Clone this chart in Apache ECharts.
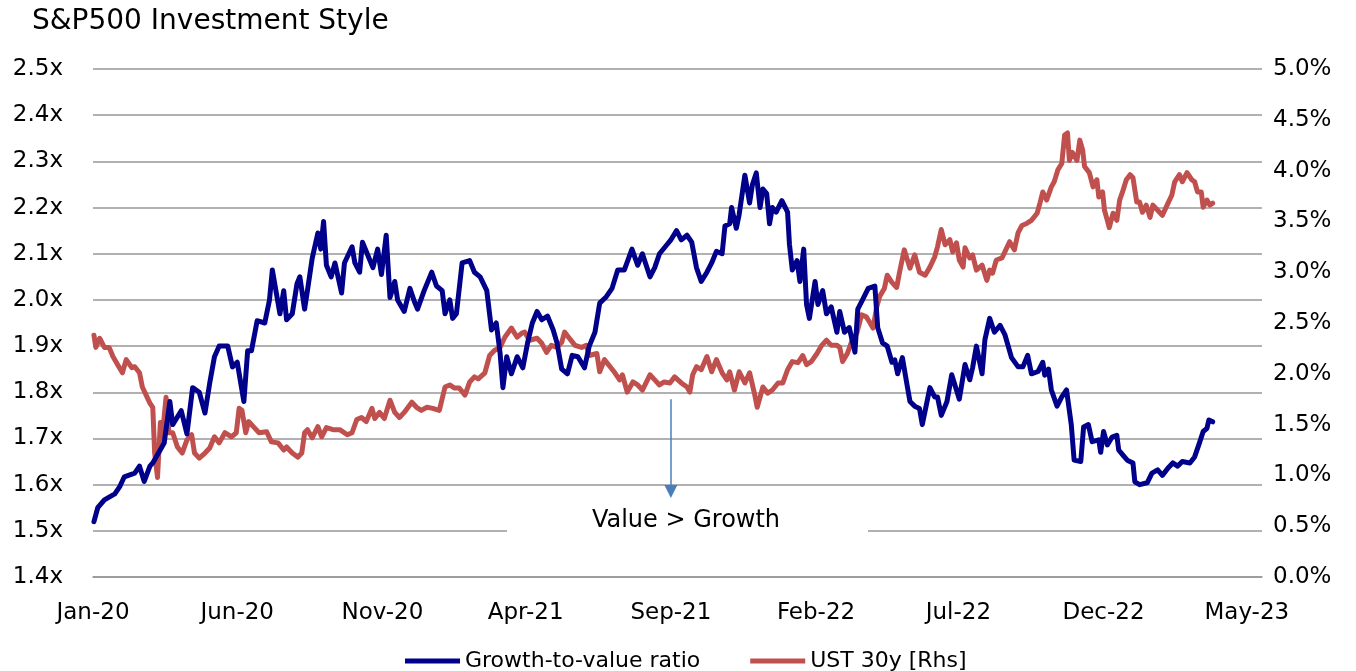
<!DOCTYPE html>
<html>
<head>
<meta charset="utf-8">
<title>S&P500 Investment Style</title>
<script src="https://cdn.jsdelivr.net/npm/echarts@6/dist/echarts.min.js"></script>
<style>
  html, body { margin: 0; padding: 0; background: #fff; }
  #chart { width: 1356px; height: 671px; }
</style>
</head>
<body>
<div id="chart"></div>
<script>
// growth-to-value ratio (left axis)
const gvDates = [
  '2020-01-02','2020-01-06','2020-01-13','2020-01-24','2020-01-29','2020-02-03','2020-02-14','2020-02-19','2020-02-24','2020-03-01',
  '2020-03-04','2020-03-16','2020-03-22','2020-03-25','2020-04-03','2020-04-09','2020-04-15','2020-04-22','2020-04-28','2020-05-03',
  '2020-05-08','2020-05-13','2020-05-22','2020-05-27','2020-06-01','2020-06-08','2020-06-12','2020-06-16','2020-06-22','2020-06-30',
  '2020-07-05','2020-07-08','2020-07-16','2020-07-20','2020-07-23','2020-07-29','2020-08-03','2020-08-06','2020-08-11','2020-08-14',
  '2020-08-19','2020-08-25','2020-08-28','2020-08-31','2020-09-03','2020-09-08','2020-09-12','2020-09-19','2020-09-22','2020-09-30',
  '2020-10-03','2020-10-08','2020-10-11','2020-10-16','2020-10-22','2020-10-27','2020-10-31','2020-11-05','2020-11-09','2020-11-14',
  '2020-11-17','2020-11-24','2020-11-30','2020-12-05','2020-12-08','2020-12-15','2020-12-23','2020-12-28','2021-01-03','2021-01-06',
  '2021-01-11','2021-01-14','2021-01-18','2021-01-24','2021-02-01','2021-02-06','2021-02-12','2021-02-19','2021-02-24','2021-03-01',
  '2021-03-05','2021-03-08','2021-03-12','2021-03-17','2021-03-23','2021-03-29','2021-04-03','2021-04-08','2021-04-13','2021-04-18',
  '2021-04-24','2021-04-30','2021-05-04','2021-05-09','2021-05-15','2021-05-20','2021-05-26','2021-06-02','2021-06-07','2021-06-13',
  '2021-06-18','2021-06-25','2021-07-01','2021-07-07','2021-07-14','2021-07-22','2021-07-28','2021-08-02','2021-08-10','2021-08-15',
  '2021-08-20','2021-08-28','2021-09-01','2021-09-04','2021-09-07','2021-09-12','2021-09-18','2021-09-23','2021-09-28','2021-10-03',
  '2021-10-09','2021-10-14','2021-10-19','2021-10-25','2021-10-28','2021-11-02','2021-11-04','2021-11-09','2021-11-12','2021-11-18',
  '2021-11-23','2021-11-26','2021-11-30','2021-12-04','2021-12-07','2021-12-11','2021-12-14','2021-12-17','2021-12-21','2021-12-27',
  '2022-01-02','2022-01-04','2022-01-07','2022-01-12','2022-01-15','2022-01-19','2022-01-22','2022-01-25','2022-01-31','2022-02-03',
  '2022-02-08','2022-02-12','2022-02-17','2022-02-23','2022-02-26','2022-03-03','2022-03-08','2022-03-14','2022-03-17','2022-03-22',
  '2022-03-28','2022-04-04','2022-04-07','2022-04-12','2022-04-17','2022-04-22','2022-04-25','2022-04-28','2022-05-03','2022-05-08',
  '2022-05-11','2022-05-16','2022-05-21','2022-05-24','2022-05-29','2022-06-01','2022-06-06','2022-06-09','2022-06-13','2022-06-19',
  '2022-06-24','2022-06-29','2022-07-02','2022-07-08','2022-07-13','2022-07-16','2022-07-20','2022-07-26','2022-07-29','2022-08-03',
  '2022-08-08','2022-08-14','2022-08-19','2022-08-26','2022-09-02','2022-09-07','2022-09-12','2022-09-16','2022-09-23','2022-09-28',
  '2022-09-30','2022-10-04','2022-10-07','2022-10-13','2022-10-18','2022-10-23','2022-10-28','2022-10-31','2022-11-07','2022-11-10',
  '2022-11-15','2022-11-19','2022-11-26','2022-11-28','2022-12-01','2022-12-05','2022-12-10','2022-12-15','2022-12-17','2022-12-21',
  '2022-12-26','2023-01-01','2023-01-03','2023-01-08','2023-01-16','2023-01-21','2023-01-27','2023-02-01','2023-02-07','2023-02-12',
  '2023-02-17','2023-02-22','2023-03-02','2023-03-07','2023-03-12','2023-03-16','2023-03-20','2023-03-22','2023-03-26'
]
const gvValues = [
  1.52, 1.55, 1.567, 1.58, 1.595, 1.617, 1.625, 1.64, 1.607, 1.64,
  1.647, 1.69, 1.78, 1.73, 1.76, 1.71, 1.81, 1.80, 1.755, 1.82,
  1.877, 1.90, 1.90, 1.855, 1.865, 1.78, 1.89, 1.89, 1.955, 1.95,
  2.0, 2.065, 1.97, 2.02, 1.957, 1.97, 2.035, 2.05, 1.98, 2.02,
  2.09, 2.145, 2.11, 2.17, 2.075, 2.05, 2.08, 2.015, 2.08, 2.115,
  2.08, 2.06, 2.125, 2.10, 2.07, 2.11, 2.055, 2.14, 2.005, 2.04,
  2.0, 1.975, 2.025, 1.995, 1.98, 2.02, 2.06, 2.03, 2.02, 1.97,
  2.0, 1.96, 1.97, 2.08, 2.085, 2.06, 2.05, 2.02, 1.935, 1.95,
  1.885, 1.81, 1.877, 1.84, 1.877, 1.853, 1.907, 1.95, 1.975, 1.957,
  1.965, 1.935, 1.907, 1.85, 1.84, 1.88, 1.877, 1.853, 1.90, 1.93,
  1.993, 2.007, 2.025, 2.065, 2.065, 2.11, 2.075, 2.10, 2.05, 2.07,
  2.10, 2.12, 2.13, 2.14, 2.15, 2.13, 2.14, 2.125, 2.07, 2.04,
  2.06, 2.08, 2.105, 2.10, 2.16, 2.165, 2.20, 2.155, 2.185, 2.27,
  2.21, 2.25, 2.275, 2.20, 2.24, 2.23, 2.165, 2.20, 2.19, 2.215,
  2.19, 2.12, 2.065, 2.085, 2.04, 2.11, 1.99, 1.96, 2.04, 1.99,
  2.02, 1.97, 1.985, 1.93, 1.975, 1.93, 1.94, 1.887, 1.98, 2.0,
  2.025, 2.03, 1.94, 1.907, 1.90, 1.865, 1.87, 1.84, 1.875, 1.815,
  1.78, 1.77, 1.765, 1.73, 1.78, 1.81, 1.79, 1.79, 1.75, 1.78,
  1.838, 1.805, 1.785, 1.86, 1.827, 1.853, 1.90, 1.84, 1.914, 1.96,
  1.93, 1.945, 1.925, 1.875, 1.855, 1.855, 1.88, 1.84, 1.845, 1.865,
  1.837, 1.85, 1.805, 1.77, 1.79, 1.805, 1.73, 1.653, 1.65, 1.725,
  1.73, 1.693, 1.697, 1.67, 1.715, 1.686, 1.703, 1.707, 1.675, 1.665,
  1.653, 1.647, 1.606, 1.60, 1.604, 1.625, 1.632, 1.62, 1.636, 1.647,
  1.64, 1.65, 1.647, 1.66, 1.69, 1.715, 1.722, 1.74, 1.736
]

// UST 30y yield in % (right axis)
const ustDates = [
  '2020-01-02','2020-01-04','2020-01-08','2020-01-13','2020-01-18','2020-01-22','2020-01-27','2020-02-01','2020-02-05','2020-02-11',
  '2020-02-14','2020-02-19','2020-02-22','2020-02-26','2020-03-01','2020-03-04','2020-03-06','2020-03-09','2020-03-12','2020-03-14',
  '2020-03-18','2020-03-21','2020-03-25','2020-03-30','2020-04-04','2020-04-09','2020-04-14','2020-04-17','2020-04-22','2020-04-28',
  '2020-05-03','2020-05-08','2020-05-13','2020-05-19','2020-05-26','2020-05-31','2020-06-03','2020-06-06','2020-06-10','2020-06-13',
  '2020-06-19','2020-06-24','2020-07-02','2020-07-07','2020-07-14','2020-07-20','2020-07-23','2020-07-29','2020-08-04','2020-08-08',
  '2020-08-11','2020-08-14','2020-08-19','2020-08-25','2020-08-29','2020-09-03','2020-09-10','2020-09-17','2020-09-25','2020-09-30',
  '2020-10-05','2020-10-10','2020-10-15','2020-10-21','2020-10-24','2020-10-29','2020-11-03','2020-11-09','2020-11-14','2020-11-19',
  '2020-11-24','2020-12-02','2020-12-07','2020-12-12','2020-12-18','2020-12-24','2020-12-31','2021-01-06','2021-01-11','2021-01-16',
  '2021-01-21','2021-01-27','2021-02-01','2021-02-06','2021-02-10','2021-02-17','2021-02-22','2021-02-27','2021-03-05','2021-03-10',
  '2021-03-17','2021-03-23','2021-03-28','2021-03-31','2021-04-05','2021-04-13','2021-04-18','2021-04-23','2021-04-28','2021-05-04',
  '2021-05-09','2021-05-12','2021-05-17','2021-05-23','2021-05-30','2021-06-04','2021-06-07','2021-06-15','2021-06-18','2021-06-23',
  '2021-06-29','2021-07-04','2021-07-09','2021-07-12','2021-07-17','2021-07-23','2021-07-28','2021-08-02','2021-08-10','2021-08-15',
  '2021-08-20','2021-08-25','2021-08-31','2021-09-05','2021-09-12','2021-09-18','2021-09-21','2021-09-24','2021-09-28','2021-10-03',
  '2021-10-09','2021-10-14','2021-10-19','2021-10-25','2021-10-30','2021-11-02','2021-11-07','2021-11-12','2021-11-18','2021-11-23',
  '2021-11-28','2021-12-01','2021-12-07','2021-12-12','2021-12-17','2021-12-23','2021-12-28','2022-01-02','2022-01-07','2022-01-13',
  '2022-01-18','2022-01-22','2022-01-27','2022-02-02','2022-02-07','2022-02-12','2022-02-17','2022-02-23','2022-02-26','2022-03-01',
  '2022-03-06','2022-03-11','2022-03-16','2022-03-21','2022-03-26','2022-03-30','2022-04-02','2022-04-06','2022-04-09','2022-04-14',
  '2022-04-17','2022-04-22','2022-04-27','2022-04-30','2022-05-05','2022-05-11','2022-05-16','2022-05-21','2022-05-27','2022-06-01',
  '2022-06-06','2022-06-09','2022-06-13','2022-06-17','2022-06-22','2022-06-25','2022-06-29','2022-07-02','2022-07-06','2022-07-08',
  '2022-07-13','2022-07-16','2022-07-20','2022-07-26','2022-07-31','2022-08-03','2022-08-06','2022-08-10','2022-08-16','2022-08-19',
  '2022-08-24','2022-08-29','2022-09-02','2022-09-06','2022-09-11','2022-09-16','2022-09-22','2022-09-25','2022-09-28','2022-10-02',
  '2022-10-07','2022-10-10','2022-10-14','2022-10-18','2022-10-21','2022-10-24','2022-10-26','2022-10-29','2022-11-03','2022-11-06',
  '2022-11-09','2022-11-11','2022-11-16','2022-11-20','2022-11-24','2022-11-26','2022-11-30','2022-12-02','2022-12-05','2022-12-07',
  '2022-12-11','2022-12-15','2022-12-18','2022-12-21','2022-12-25','2022-12-29','2023-01-01','2023-01-05','2023-01-08','2023-01-11',
  '2023-01-15','2023-01-19','2023-01-22','2023-01-27','2023-02-01','2023-02-06','2023-02-11','2023-02-14','2023-02-19','2023-02-22',
  '2023-02-27','2023-03-04','2023-03-07','2023-03-10','2023-03-14','2023-03-16','2023-03-20','2023-03-23','2023-03-26'
]
const ustValues = [
  2.38, 2.26, 2.35, 2.26, 2.26, 2.17, 2.09, 2.01, 2.14, 2.06,
  2.07, 2.01, 1.87, 1.79, 1.71, 1.67, 1.22, 0.98, 1.52, 1.38,
  1.77, 1.42, 1.42, 1.28, 1.22, 1.35, 1.40, 1.22, 1.17, 1.22,
  1.27, 1.38, 1.32, 1.42, 1.38, 1.42, 1.66, 1.64, 1.42, 1.53,
  1.47, 1.42, 1.43, 1.33, 1.32, 1.25, 1.28, 1.22, 1.18, 1.22,
  1.42, 1.45, 1.37, 1.48, 1.38, 1.47, 1.45, 1.45, 1.40, 1.42,
  1.55, 1.57, 1.53, 1.66, 1.56, 1.62, 1.56, 1.74, 1.62, 1.57,
  1.62, 1.72, 1.67, 1.64, 1.67, 1.66, 1.64, 1.87, 1.89, 1.86,
  1.86, 1.79, 1.92, 1.97, 1.95, 2.01, 2.18, 2.23, 2.26, 2.36,
  2.45, 2.36, 2.40, 2.41, 2.33, 2.35, 2.30, 2.21, 2.28, 2.26,
  2.31, 2.41, 2.35, 2.28, 2.26, 2.28, 2.18, 2.20, 2.02, 2.14,
  2.07, 2.01, 1.94, 1.99, 1.82, 1.92, 1.89, 1.84, 1.99, 1.94,
  1.89, 1.92, 1.91, 1.97, 1.91, 1.87, 1.82, 1.99, 2.07, 2.04,
  2.17, 2.02, 2.14, 2.01, 1.94, 2.02, 1.84, 2.02, 1.91, 2.01,
  1.81, 1.67, 1.87, 1.81, 1.84, 1.91, 1.91, 2.04, 2.12, 2.11,
  2.18, 2.09, 2.12, 2.20, 2.28, 2.33, 2.28, 2.28, 2.26, 2.12,
  2.20, 2.33, 2.40, 2.58, 2.56, 2.50, 2.45, 2.66, 2.76, 2.84,
  2.97, 2.90, 2.85, 3.00, 3.22, 3.04, 3.17, 3.00, 2.97, 3.05,
  3.15, 3.25, 3.42, 3.27, 3.32, 3.20, 3.29, 3.12, 3.05, 3.24,
  3.14, 3.17, 3.02, 3.07, 2.92, 3.02, 2.99, 3.12, 3.14, 3.20,
  3.30, 3.22, 3.39, 3.46, 3.48, 3.51, 3.58, 3.68, 3.79, 3.71,
  3.84, 3.89, 4.01, 4.07, 4.35, 4.37, 4.10, 4.18, 4.10, 4.30,
  4.20, 4.04, 3.98, 3.84, 3.91, 3.74, 3.79, 3.61, 3.51, 3.44,
  3.58, 3.51, 3.71, 3.79, 3.91, 3.96, 3.93, 3.69, 3.69, 3.59,
  3.66, 3.54, 3.66, 3.61, 3.56, 3.66, 3.76, 3.89, 3.96, 3.89,
  3.98, 3.91, 3.89, 3.79, 3.79, 3.64, 3.71, 3.66, 3.68
]

// x axis label dates (every 5 months)
const xLabelDates = ['2020-01-01','2020-06-01','2020-11-01','2021-04-01','2021-09-01','2022-02-01','2022-07-01','2022-12-01','2023-05-01']
const MONTHS = ['Jan','Feb','Mar','Apr','May','Jun','Jul','Aug','Sep','Oct','Nov','Dec']

const toTs = s => {
  const [y, m, d] = s.split('-').map(Number)
  return new Date(y, m - 1, d).getTime()
}

const gvData = gvDates.map((d, i) => [toTs(d), gvValues[i]])
const ustData = ustDates.map((d, i) => [toTs(d), ustValues[i]])

const FONT = 'DejaVu Sans'
const FONT_SIZE = 23
const GRID_COLOR = '#979797'

const chart = echarts.init(document.getElementById('chart'))

const option = {
  animation: false,
  backgroundColor: '#ffffff',
  title: {
    text: 'S&P500 Investment Style',
    left: 27,
    top: 3,
    textStyle: { fontFamily: FONT, fontSize: 28, fontWeight: 'normal', color: '#000' }
  },
  legend: {
    left: 400,
    top: 645,
    icon: 'rect',
    itemWidth: 55,
    itemHeight: 5,
    itemGap: 50,
    textStyle: { fontFamily: FONT, fontSize: 22, color: '#000' },
    data: ['Growth-to-value ratio', 'UST 30y [Rhs]']
  },
  grid: { left: 93, right: 94, top: 69, bottom: 94 },
  xAxis: {
    // timestamps on a value axis so the label positions can be set explicitly
    type: 'value',
    min: toTs('2020-01-01'),
    max: toTs('2023-05-17'),
    axisLine: { show: true, lineStyle: { color: GRID_COLOR, width: 1.5 } },
    axisTick: { show: false },
    splitLine: { show: false },
    axisLabel: {
      customValues: xLabelDates.map(toTs),
      margin: 25,
      fontFamily: FONT,
      fontSize: FONT_SIZE,
      color: '#000',
      formatter: v => {
        const d = new Date(v)
        return MONTHS[d.getMonth()] + '-' + String(d.getFullYear()).slice(2)
      }
    }
  },
  yAxis: [
    {
      type: 'value',
      min: 1.4,
      max: 2.5,
      interval: 0.1,
      axisLine: { show: false },
      axisTick: { show: false },
      splitLine: { lineStyle: { color: GRID_COLOR, width: 1.5 } },
      axisLabel: {
        margin: 30,
        fontFamily: FONT,
        fontSize: FONT_SIZE,
        color: '#000',
        formatter: v => v.toFixed(1) + 'x'
      }
    },
    {
      type: 'value',
      min: 0,
      max: 5,
      interval: 0.5,
      position: 'right',
      axisLine: { show: false },
      axisTick: { show: false },
      splitLine: { show: false },
      axisLabel: {
        margin: 11,
        fontFamily: FONT,
        fontSize: FONT_SIZE,
        color: '#000',
        formatter: v => v.toFixed(1) + '%'
      }
    }
  ],
  series: [
    {
      name: 'Growth-to-value ratio',
      type: 'line',
      yAxisIndex: 0,
      data: gvData,
      showSymbol: false,
      symbol: 'none',
      z: 3,
      lineStyle: { color: '#00008b', width: 5, join: 'round', cap: 'round' },
      itemStyle: { color: '#00008b' },
      markLine: {
        silent: true,
        symbol: ['none', 'triangle'],
        symbolSize: [13, 13],
        label: { show: false },
        lineStyle: { color: '#4a7ebb', width: 1.5, type: 'solid' },
        data: [[{ coord: [toTs('2021-09-01'), 1.785] }, { coord: [toTs('2021-09-01'), 1.585] }]]
      }
    },
    {
      name: 'UST 30y [Rhs]',
      type: 'line',
      yAxisIndex: 1,
      data: ustData,
      showSymbol: false,
      symbol: 'none',
      z: 2,
      lineStyle: { color: '#c0504d', width: 5, join: 'round', cap: 'round' },
      itemStyle: { color: '#c0504d' }
    }
  ],
  graphic: [
    {
      type: 'rect',
      z: 10,
      shape: { x: 507, y: 502, width: 361, height: 40 },
      style: { fill: '#ffffff' }
    },
    {
      type: 'text',
      z: 11,
      x: 686,
      y: 521,
      style: {
        text: 'Value > Growth',
        fill: '#000',
        font: '24px "DejaVu Sans"',
        align: 'center',
        verticalAlign: 'middle'
      }
    }
  ]
}

chart.setOption(option)
window.addEventListener('resize', () => chart.resize())
</script>
</body>
</html>
